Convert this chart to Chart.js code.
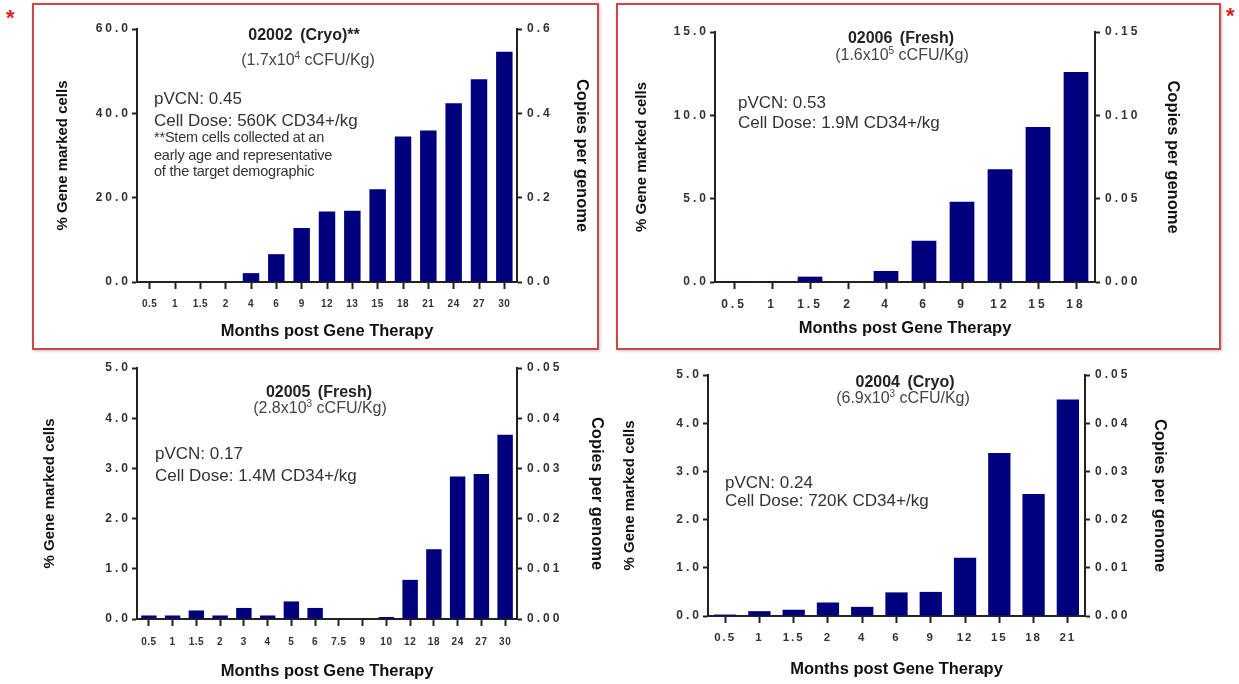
<!DOCTYPE html>
<html>
<head>
<meta charset="utf-8">
<script src="https://cdn.jsdelivr.net/npm/chart.js@4.4.1/dist/chart.umd.min.js"></script>
<style>
  body { margin: 0; background: #fff; font-family: "Liberation Sans", Arial, sans-serif; }
  #page { position: relative; width: 1239px; height: 684px; overflow: hidden; }
  .box { position: absolute; border: 2px solid #c94a45; box-shadow: 1px 1px 3px rgba(0,0,0,0.25); }
  .cv { position: absolute; }
  .txt { position: absolute; color: #222; white-space: nowrap; line-height: 1; }
  .ttl { font-weight: bold; font-size: 16px; word-spacing: 3px; transform: translateX(-50%); }
  .sub { font-size: 16px; color: #444; transform: translateX(-50%); }
  .note { font-size: 17px; color: #333; }
  .small { font-size: 14.5px; color: #333; letter-spacing: -0.2px; }
  .star { position: absolute; color: #e02020; font-size: 22px; font-weight: bold; }
  sup { font-size: 10px; line-height: 0; }
</style>
</head>
<body>
<div id="page">
  <div class="box" style="left:32px;top:3px;width:563px;height:343px"></div>
  <div class="box" style="left:616px;top:3px;width:601px;height:343px"></div>
  <div class="star" style="left:6px;top:5px">*</div>
  <div class="star" style="left:1226px;top:3px">*</div>

  <canvas id="c1" class="cv" style="left:35px;top:6px" width="560" height="340"></canvas>
  <canvas id="c2" class="cv" style="left:620px;top:6px" width="596" height="340"></canvas>
  <canvas id="c3" class="cv" style="left:35px;top:352px" width="575" height="330"></canvas>
  <canvas id="c4" class="cv" style="left:615px;top:352px" width="600" height="330"></canvas>

  <div class="txt ttl" style="left:304px;top:27px">02002 (Cryo)**</div>
  <div class="txt sub" style="left:308px;top:52px">(1.7x10<sup>4</sup> cCFU/Kg)</div>
  <div class="txt note" style="left:154px;top:90px">pVCN: 0.45</div>
  <div class="txt note" style="left:154px;top:112px">Cell Dose: 560K CD34+/kg</div>
  <div class="txt small" style="left:154px;top:130px">**Stem cells collected at an</div>
  <div class="txt small" style="left:154px;top:148px">early age and representative</div>
  <div class="txt small" style="left:154px;top:164px">of the target demographic</div>

  <div class="txt ttl" style="left:901px;top:30px">02006 (Fresh)</div>
  <div class="txt sub" style="left:902px;top:47px">(1.6x10<sup>5</sup> cCFU/Kg)</div>
  <div class="txt note" style="left:738px;top:94px">pVCN: 0.53</div>
  <div class="txt note" style="left:738px;top:114px">Cell Dose: 1.9M CD34+/kg</div>

  <div class="txt ttl" style="left:319px;top:384px">02005 (Fresh)</div>
  <div class="txt sub" style="left:320px;top:400px">(2.8x10<sup>3</sup> cCFU/Kg)</div>
  <div class="txt note" style="left:155px;top:445px">pVCN: 0.17</div>
  <div class="txt note" style="left:155px;top:467px">Cell Dose: 1.4M CD34+/kg</div>

  <div class="txt ttl" style="left:905px;top:374px">02004 (Cryo)</div>
  <div class="txt sub" style="left:903px;top:390px">(6.9x10<sup>3</sup> cCFU/Kg)</div>
  <div class="txt note" style="left:725px;top:474px">pVCN: 0.24</div>
  <div class="txt note" style="left:725px;top:492px">Cell Dose: 720K CD34+/kg</div>
</div>
<script>
// months post gene therapy, one list per patient
const months02002 = ["0.5", "1", "1.5", "2", "4", "6", "9", "12", "13", "15", "18", "21", "24", "27", "30"];
const marked02002 = [0, 0, 0, 0, 2.1, 6.6, 12.8, 16.7, 16.9, 22.0, 34.5, 35.9, 42.4, 48.1, 54.6];

const months02006 = ["0.5", "1", "1.5", "2", "4", "6", "9", "12", "15", "18"];
const marked02006 = [0.05, 0.05, 0.32, 0, 0.66, 2.48, 4.81, 6.77, 9.3, 12.6];

const months02005 = ["0.5", "1", "1.5", "2", "3", "4", "5", "6", "7.5", "9", "10", "12", "18", "24", "27", "30"];
const marked02005 = [0.07, 0.07, 0.17, 0.07, 0.22, 0.07, 0.35, 0.22, 0, 0, 0.04, 0.78, 1.39, 2.84, 2.89, 3.67];

const months02004 = ["0.5", "1", "1.5", "2", "4", "6", "9", "12", "15", "18", "21"];
const marked02004 = [0.03, 0.1, 0.13, 0.28, 0.19, 0.49, 0.5, 1.21, 3.38, 2.53, 4.49];

// axis ranges: left (% marked) and right (copies per genome)
const leftMax = [60, 15, 5, 5];
const leftStep = [20, 5, 1, 1];
const rightMax = [0.6, 0.15, 0.05, 0.05];
const rightStep = [0.2, 0.05, 0.01, 0.01];

const NAVY = "#00007f";
const AXIS = "#222";

// prism-style spaced tick labels: wrap each scale's drawLabels with a letterSpacing
const spacing = {
  id: "spacing",
  beforeDraw(chart, args, opts) {
    Object.values(chart.scales).forEach(s => {
      if (s._spaced) return;
      const orig = s.drawLabels;
      const gap = opts[s.id] || "0px";
      s.drawLabels = function (area) {
        this.ctx.letterSpacing = gap;
        orig.call(this, area);
        this.ctx.letterSpacing = "0px";
      };
      s._spaced = true;
    });
  },
};

function makePanel(id, labels, values, i, box) {
  const canvas = document.getElementById(id);
  return new Chart(canvas, {
    type: "bar",
    data: {
      labels: labels,
      datasets: [{
        data: values,
        backgroundColor: NAVY,
        borderWidth: 0,
        barPercentage: 0.65,
        categoryPercentage: 1,
      }],
    },
    options: {
      responsive: false,
      animation: false,
      layout: { padding: { top: box.top, left: 0, right: 0, bottom: 0 } },
      plugins: {
        legend: { display: false },
        tooltip: { enabled: false },
        spacing: { x: box.xGap, y: "3px", y2: "3px" },
      },
      scales: {
        x: {
          grid: { offset: false, drawOnChartArea: false, drawTicks: true, tickLength: 7, tickWidth: 2, color: AXIS },
          border: { display: true, color: AXIS, width: 2 },
          ticks: { color: "#333", font: { size: box.xFont, weight: "bold" }, padding: box.xPad, maxRotation: 0, autoSkip: false },
          title: { display: true, text: "Months post Gene Therapy", color: "#111", font: { size: 16.5, weight: "bold" }, padding: { top: 0, bottom: box.xTitle } },
          afterFit(s) { s.height = box.xH; },
        },
        y: {
          position: "left",
          min: 0, max: leftMax[i],
          grid: { drawOnChartArea: false, drawTicks: true, tickLength: 5, tickWidth: 2, color: AXIS },
          border: { display: true, color: AXIS, width: 2 },
          ticks: { stepSize: leftStep[i], color: "#333", font: { size: 12, weight: "bold" }, padding: 1, callback: v => v.toFixed(1) },
          title: { display: true, text: "% Gene marked cells", color: "#111", font: { size: 15, weight: "bold" }, padding: { top: box.lTitle, bottom: 0 } },
          afterFit(s) { s.width = box.lW; },
        },
        y2: {
          position: "right",
          min: 0, max: rightMax[i],
          grid: { drawOnChartArea: false, drawTicks: true, tickLength: 5, tickWidth: 2, color: AXIS },
          border: { display: true, color: AXIS, width: 2 },
          ticks: { stepSize: rightStep[i], color: "#333", font: { size: 12, weight: "bold" }, padding: 5,
                   callback: v => v.toFixed(i === 0 ? 1 : 2) },
          title: { display: true, text: "Copies per genome", color: "#111", font: { size: 16.5, weight: "bold" }, padding: { top: box.rTitle, bottom: 0 } },
          afterFit(s) { s.width = box.rW; },
        },
      },
    },
    plugins: [spacing],
  });
}

makePanel("c1", months02002, marked02002, 0, { top: 23, lW: 102, rW: 78, xH: 64, lTitle: 19, rTitle: 4, xTitle: 4.5, xFont: 10, xGap: "0.5px", xPad: 9 });
makePanel("c2", months02006, marked02006, 1, { top: 26, lW: 95, rW: 121, xH: 64, lTitle: 13, rTitle: 34, xTitle: 7.5, xFont: 12, xGap: "3px", xPad: 8 });
makePanel("c3", months02005, marked02005, 2, { top: 16, lW: 102, rW: 93, xH: 63, lTitle: 6, rTitle: 4, xTitle: 0.5, xFont: 10, xGap: "0.5px", xPad: 10 });
makePanel("c4", months02004, marked02004, 3, { top: 23, lW: 93, rW: 130, xH: 66, lTitle: 6, rTitle: 46, xTitle: 2.5, xFont: 11.5, xGap: "2px", xPad: 8 });
</script>
</body>
</html>
